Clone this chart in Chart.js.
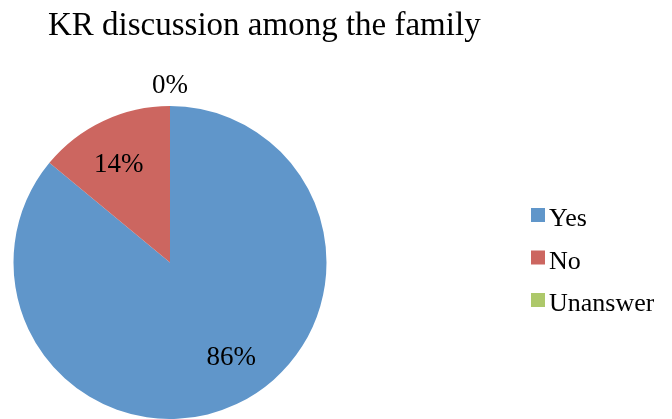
<!DOCTYPE html>
<html>
<head>
<meta charset="utf-8">
<script src="https://cdn.jsdelivr.net/npm/chart.js@4.4.1/dist/chart.umd.min.js"></script>
<style>
html,body{margin:0;padding:0;background:#fff;}
#wrap{width:672px;height:419px;position:relative;}
</style>
</head>
<body>
<div id="wrap"><canvas id="c" width="672" height="419"></canvas></div>
<script>
const chartTitle = "KR discussion among the family";
const categories = ["Yes", "No", "Unanswered"];
const values = [86, 14, 0];
const percentLabels = ["86%", "14%", "0%"];
const colors = ["#6096CA", "#CC6660", "#ADC86A"];

const FONT = "'Liberation Serif', 'DejaVu Serif', serif";

const decor = {
  id: 'decor',
  afterDraw(chart) {
    const ctx = chart.ctx;
    ctx.save();
    // title
    ctx.fillStyle = '#000';
    ctx.font = "33px " + FONT;
    ctx.textBaseline = 'alphabetic';
    ctx.textAlign = 'left';
    ctx.fillText(chartTitle, 48, 35);

    // data labels
    const meta = chart.getDatasetMeta(0);
    ctx.font = "27px " + FONT;
    ctx.textAlign = 'center';
    ctx.textBaseline = 'middle';
    const nudges = [[18, 3], [-8, -6], [0, 2]];
    meta.data.forEach((arc, i) => {
      const p = arc.getProps(['x', 'y', 'startAngle', 'endAngle', 'outerRadius'], true);
      const mid = (p.startAngle + p.endAngle) / 2;
      let r = values[i] === 0 ? p.outerRadius + 22 : p.outerRadius * 0.65;
      const x = p.x + Math.cos(mid) * r + nudges[i][0];
      const y = p.y + Math.sin(mid) * r + nudges[i][1];
      ctx.fillText(percentLabels[i], x, y);
    });

    // legend (text clipped like the original)
    ctx.beginPath();
    ctx.rect(0, 0, 654, 419);
    ctx.clip();
    ctx.font = "26px " + FONT;
    ctx.textAlign = 'left';
    ctx.textBaseline = 'alphabetic';
    categories.forEach((c, i) => {
      const base = 226 + i * 42.5;
      ctx.fillStyle = colors[i];
      ctx.fillRect(531, base - 18, 14, 14);
      ctx.fillStyle = '#000';
      ctx.fillText(c, 549, base);
    });
    ctx.restore();
  }
};

new Chart(document.getElementById('c'), {
  type: 'pie',
  data: {
    labels: categories,
    datasets: [{
      data: values,
      backgroundColor: colors,
      borderWidth: 0
    }]
  },
  options: {
    responsive: false,
    animation: false,
    layout: { padding: { left: 13, right: 345, top: 106, bottom: 0 } },
    plugins: {
      legend: { display: false },
      title: { display: false },
      tooltip: { enabled: false }
    }
  },
  plugins: [decor]
});
</script>
</body>
</html>
